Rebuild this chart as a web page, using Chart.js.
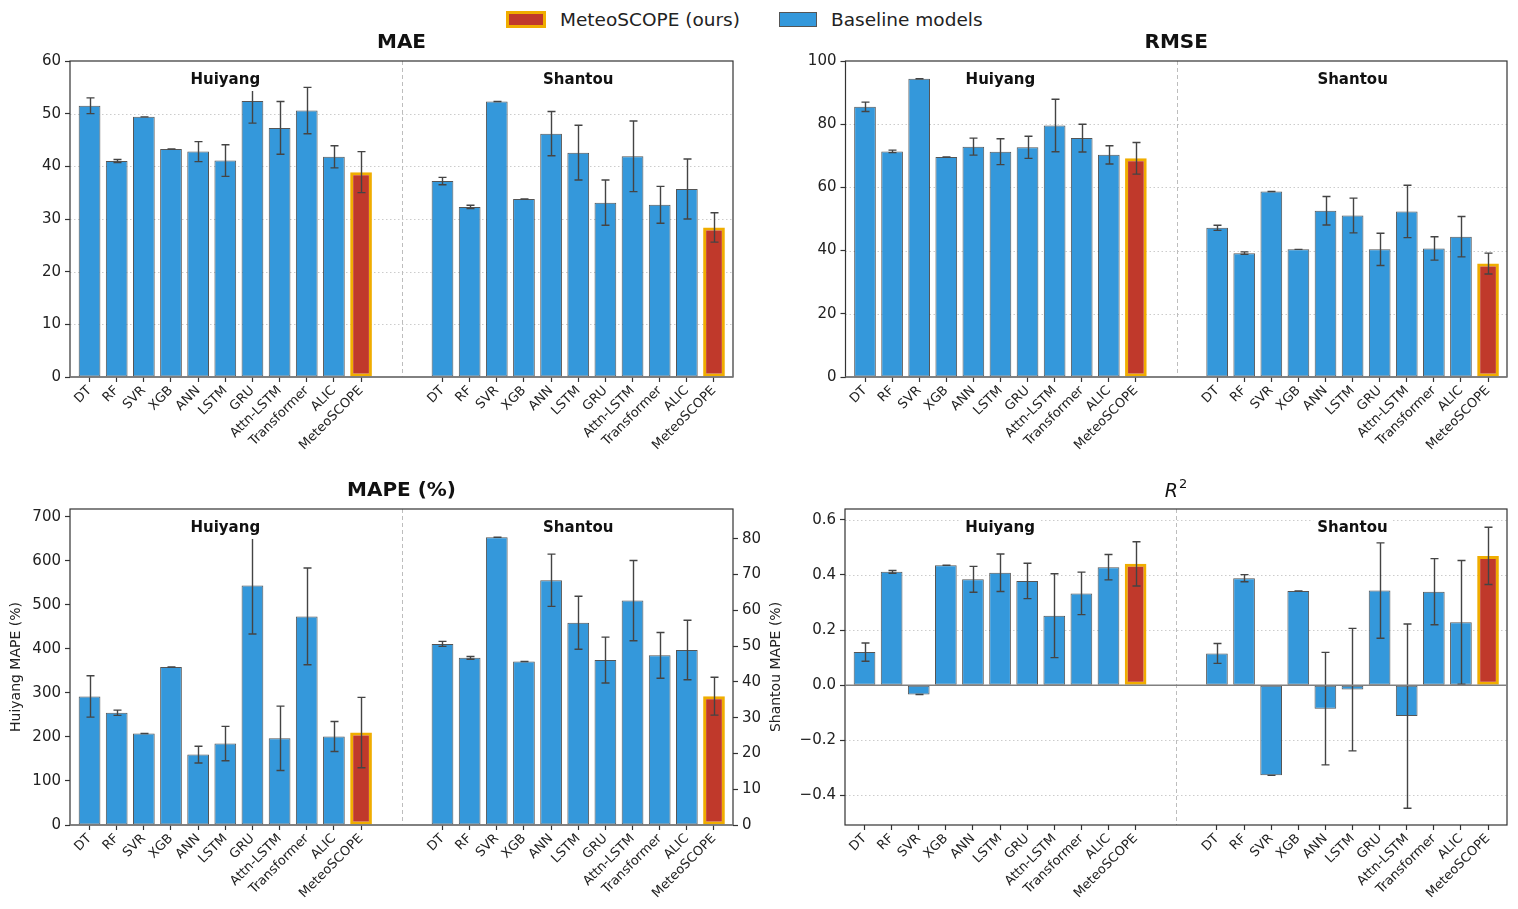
<!DOCTYPE html>
<html><head><meta charset="utf-8">
<script src="https://cdn.jsdelivr.net/npm/chart.js@4.4.0/dist/chart.umd.min.js"></script>
<style>
html,body{margin:0;padding:0;background:#fff;width:1518px;height:909px;overflow:hidden;font-family:"DejaVu Sans",sans-serif;}
canvas{position:absolute;}
.patch{position:absolute;box-sizing:border-box;}
.ltxt{position:absolute;top:9px;font-size:18.5px;line-height:22px;color:#222;white-space:nowrap;}
</style></head><body>
<div class="patch" style="left:506px;top:11px;width:40px;height:17px;background:#c0392b;border:3px solid #f0ad00"></div>
<div class="ltxt" style="left:560px">MeteoSCOPE (ours)</div>
<div class="patch" style="left:779px;top:12px;width:38px;height:15px;background:#3498db;border:1px solid #555"></div>
<div class="ltxt" style="left:831px">Baseline models</div>
<canvas id="cMAE" width="760" height="460" style="left:0;top:0;width:760px;height:460px"></canvas>
<canvas id="cRMSE" width="758" height="460" style="left:760px;top:0;width:758px;height:460px"></canvas>
<canvas id="cMAPE" width="790" height="449" style="left:0;top:460px;width:790px;height:449px"></canvas>
<canvas id="cR2" width="728" height="449" style="left:790px;top:460px;width:728px;height:449px"></canvas>
<script>
// ---------------- data ----------------
const models = ['DT','RF','SVR','XGB','ANN','LSTM','GRU','Attn-LSTM','Transformer','ALIC','MeteoSCOPE'];
const sites = ['Huiyang','Shantou'];

const maeHuiyang    = [51.5, 41.0, 49.4, 43.3, 42.8, 41.1, 52.4, 47.3, 50.6, 41.8, 38.9];
const maeHuiyangErr = [1.5, 0.3, 0.0, 0.0, 1.9, 3.0, 4.2, 5.0, 4.4, 2.1, 3.9];
const maeShantou    = [37.2, 32.3, 52.3, 33.8, 46.2, 42.6, 33.1, 41.9, 32.7, 35.7, 28.4];
const maeShantouErr = [0.7, 0.3, 0.0, 0.0, 4.2, 5.2, 4.3, 6.7, 3.5, 5.7, 2.8];

const rmseHuiyang    = [85.5, 71.4, 94.4, 69.6, 72.9, 71.3, 72.7, 79.6, 75.6, 70.3, 69.2];
const rmseHuiyangErr = [1.5, 0.4, 0.0, 0.0, 2.7, 4.1, 3.5, 8.3, 4.4, 2.9, 5.0];
const rmseShantou    = [47.2, 39.2, 58.7, 40.4, 52.6, 51.1, 40.4, 52.4, 40.7, 44.4, 35.9];
const rmseShantouErr = [0.8, 0.4, 0.0, 0.0, 4.5, 5.5, 5.1, 8.3, 3.7, 6.4, 3.3];

const mapeHuiyang    = [292, 255, 208, 359, 160, 185, 544, 197, 474, 201, 210];
const mapeHuiyangErr = [47, 6, 0, 0, 19, 39, 110, 73, 110, 34, 80];
const mapeShantou    = [50.6, 46.7, 80.4, 45.7, 68.4, 56.5, 46.1, 62.7, 47.4, 48.9, 36.0];
const mapeShantouErr = [0.7, 0.4, 0.0, 0.0, 7.3, 7.4, 6.4, 11.2, 6.4, 8.3, 5.3];

const r2Huiyang    = [0.120, 0.411, -0.034, 0.435, 0.384, 0.408, 0.378, 0.252, 0.333, 0.428, 0.440];
const r2HuiyangErr = [0.033, 0.005, 0.0, 0.0, 0.047, 0.068, 0.064, 0.152, 0.077, 0.046, 0.080];
const r2Shantou    = [0.115, 0.388, -0.327, 0.342, -0.085, -0.016, 0.343, -0.112, 0.339, 0.228, 0.469];
const r2ShantouErr = [0.036, 0.013, 0.0, 0.0, 0.204, 0.222, 0.173, 0.334, 0.120, 0.224, 0.104];

const maeTicks  = [0, 10, 20, 30, 40, 50, 60];
const rmseTicks = [0, 20, 40, 60, 80, 100];
const mapeHuiyangTicks = [0, 100, 200, 300, 400, 500, 600, 700];
const mapeShantouTicks = [0, 10, 20, 30, 40, 50, 60, 70, 80];
const r2Ticks = [-0.4, -0.2, 0.0, 0.2, 0.4, 0.6];

// ---------------- styling / layout ----------------
const FONT = '"DejaVu Sans", sans-serif';
Chart.defaults.font.family = FONT;
const BLUE = '#3498db', BLUE_EDGE = 'rgba(55,55,55,0.85)', RED = '#c0392b', GOLD = '#f0ad00';
const SHIFT = 13;               // slot where the second site starts
const OURS = models.indexOf('MeteoSCOPE');
const xPositions = [...models.map((m, i) => i), ...models.map((m, i) => i + SHIFT)];
function labelAt(v) { return v < SHIFT ? models[v] : models[v - SHIFT]; }

const decor = {
  id: 'decor',
  beforeDatasetsDraw(chart) {
    const c = chart.options.plugins.decor, ctx = chart.ctx, a = chart.chartArea;
    const x = chart.scales.x, y = chart.scales.y;
    ctx.save();
    if (c.grid) {
      ctx.strokeStyle = '#cccccc'; ctx.lineWidth = 1; ctx.setLineDash([1.5, 2.5]);
      c.grid.forEach(v => {
        const py = Math.round(y.getPixelForValue(v)) + 0.5;
        ctx.beginPath(); ctx.moveTo(a.left, py); ctx.lineTo(a.right, py); ctx.stroke();
      });
    }
    const dx = Math.round(x.getPixelForValue((models.length - 1 + SHIFT) / 2)) + 0.5;
    ctx.strokeStyle = '#bdbdbd'; ctx.lineWidth = 1; ctx.setLineDash([4, 3]);
    ctx.beginPath(); ctx.moveTo(dx, a.top); ctx.lineTo(dx, a.bottom); ctx.stroke();
    ctx.restore();
  },
  afterDatasetsDraw(chart) {
    const c = chart.options.plugins.decor, ctx = chart.ctx, a = chart.chartArea;
    const x = chart.scales.x, y = chart.scales.y;
    ctx.save();
    // error bars
    chart.data.datasets.forEach((ds, di) => {
      const meta = chart.getDatasetMeta(di);
      const ys = chart.scales[meta.yAxisID];
      meta.data.forEach((el, i) => {
        const v = ds.data[i].y, e = ds.errors[i];
        const px = Math.round(el.x) + 0.5;
        const t = ys.getPixelForValue(v + e), b = ys.getPixelForValue(v - e);
        ctx.strokeStyle = '#444'; ctx.lineWidth = 1.4; ctx.setLineDash([]);
        ctx.beginPath(); ctx.moveTo(px, t); ctx.lineTo(px, b);
        ctx.moveTo(px - 4, t); ctx.lineTo(px + 4, t);
        ctx.moveTo(px - 4, b); ctx.lineTo(px + 4, b); ctx.stroke();
      });
    });
    // spines
    ctx.strokeStyle = '#333'; ctx.lineWidth = 1.2;
    ctx.strokeRect(a.left, a.top, a.right - a.left, a.bottom - a.top);
    // zero line
    const zy = y.getPixelForValue(0);
    ctx.strokeStyle = '#808080'; ctx.lineWidth = 1.6;
    ctx.beginPath(); ctx.moveTo(a.left, zy); ctx.lineTo(a.right, zy); ctx.stroke();
    // site labels with white box
    ctx.font = 'bold 15px ' + FONT; ctx.textAlign = 'center'; ctx.textBaseline = 'middle';
    [(models.length - 1) / 2, (models.length - 1) / 2 + SHIFT].forEach((pos, k) => {
      const px = x.getPixelForValue(pos), py = a.top + 19;
      const w = ctx.measureText(sites[k]).width;
      ctx.fillStyle = '#fff'; ctx.fillRect(px - w / 2 - 4, py - 11, w + 8, 22);
      ctx.fillStyle = '#111'; ctx.fillText(sites[k], px, py);
    });
    // title
    const cx = (a.left + a.right) / 2, ty = a.top - 18;
    ctx.fillStyle = '#111';
    if (c.title === 'R2') {
      ctx.font = 'italic 19px ' + FONT; const w1 = ctx.measureText('R').width;
      ctx.font = '13px ' + FONT; const w2 = ctx.measureText('2').width;
      const sx = cx - (w1 + w2 + 1) / 2;
      ctx.textAlign = 'left';
      ctx.font = 'italic 19px ' + FONT; ctx.fillText('R', sx, ty + 1);
      ctx.font = '13px ' + FONT; ctx.fillText('2', sx + w1 + 1, ty - 6);
    } else {
      ctx.font = 'bold 20px ' + FONT; ctx.textAlign = 'center'; ctx.fillText(c.title, cx, ty);
    }
    // axis titles
    ctx.font = '14px ' + FONT; ctx.fillStyle = '#222'; ctx.textAlign = 'center';
    const my = (a.top + a.bottom) / 2;
    if (c.leftTitle) { ctx.save(); ctx.translate(16, my); ctx.rotate(-Math.PI / 2); ctx.fillText(c.leftTitle, 0, 0); ctx.restore(); }
    if (c.rightTitle) { ctx.save(); ctx.translate(a.right + 43, my); ctx.rotate(-Math.PI / 2); ctx.fillText(c.rightTitle, 0, 0); ctx.restore(); }
    ctx.restore();
  }
};

function barStyle() {
  return {
    backgroundColor: ctx => ctx.dataIndex === OURS ? RED : BLUE,
    borderColor: ctx => ctx.dataIndex === OURS ? GOLD : BLUE_EDGE,
    borderWidth: ctx => ctx.dataIndex === OURS ? 3 : 1,
    borderSkipped: false, grouped: false, barPercentage: 0.8, categoryPercentage: 1.0
  };
}

function yScale(ticks, min, max, fmt, width, position) {
  return {
    type: 'linear', position, min, max,
    afterBuildTicks: s => { s.ticks = ticks.map(v => ({ value: v })); },
    afterFit: s => { s.width = width; },
    ticks: { callback: v => fmt(v), font: { size: 15 }, color: '#222', padding: 4, autoSkip: false },
    grid: { drawOnChartArea: false, drawTicks: true, tickLength: 5, tickColor: '#333', tickWidth: 1.2 },
    border: { display: false }
  };
}

function makeChart(id, p) {
  const datasets = [
    Object.assign({ data: p.h.map((v, i) => ({ x: i, y: v })), errors: p.hErr, yAxisID: 'y' }, barStyle()),
    Object.assign({ data: p.s.map((v, i) => ({ x: i + SHIFT, y: v })), errors: p.sErr, yAxisID: p.y2 ? 'y2' : 'y' }, barStyle())
  ];
  const scales = {
    x: {
      type: 'linear', offset: false, min: -0.72, max: models.length - 1 + SHIFT + 0.7,
      afterBuildTicks: s => { s.ticks = xPositions.map(v => ({ value: v })); },
      afterFit: s => { s.height = p.xh; },
      ticks: { autoSkip: false, minRotation: 45, maxRotation: 45, callback: v => labelAt(v),
               font: { size: 13 }, color: '#222', padding: 1 },
      grid: { drawOnChartArea: false, drawTicks: true, tickLength: 5, tickColor: '#333', tickWidth: 1.2, offset: false },
      border: { display: false }
    },
    y: yScale(p.yTicks, p.yMin, p.yMax, p.fmt, p.yw, 'left')
  };
  if (p.y2) scales.y2 = yScale(p.y2.ticks, p.y2.min, p.y2.max, p.y2.fmt, p.y2.w, 'right');
  return new Chart(document.getElementById(id), {
    type: 'bar',
    data: { datasets },
    options: {
      responsive: false, animation: false, devicePixelRatio: 1,
      layout: { padding: { top: p.top, right: p.right, left: 0, bottom: 0 } },
      plugins: { legend: { display: false }, tooltip: { enabled: false }, title: { display: false },
                 decor: { title: p.title, grid: p.grid, leftTitle: p.leftTitle, rightTitle: p.rightTitle } },
      scales
    },
    plugins: [decor]
  });
}

const intFmt = v => String(Math.round(v));
const r2Fmt = v => { const s = Math.abs(v).toFixed(1); return v < -1e-9 ? '\u2212' + s : s; };

makeChart('cMAE', { title: 'MAE', h: maeHuiyang, hErr: maeHuiyangErr, s: maeShantou, sErr: maeShantouErr,
  yTicks: maeTicks, yMin: 0, yMax: 60, fmt: intFmt, yw: 70, right: 27, top: 61, xh: 83,
  grid: maeTicks.slice(1, -1) });
makeChart('cRMSE', { title: 'RMSE', h: rmseHuiyang, hErr: rmseHuiyangErr, s: rmseShantou, sErr: rmseShantouErr,
  yTicks: rmseTicks, yMin: 0, yMax: 100, fmt: intFmt, yw: 85.5, right: 11, top: 61, xh: 83,
  grid: rmseTicks.slice(1, -1) });
makeChart('cMAPE', { title: 'MAPE (%)', h: mapeHuiyang, hErr: mapeHuiyangErr, s: mapeShantou, sErr: mapeShantouErr,
  yTicks: mapeHuiyangTicks, yMin: 0, yMax: 718, fmt: intFmt, yw: 70, right: 0, top: 49, xh: 84,
  y2: { ticks: mapeShantouTicks, min: 0, max: 88.3, fmt: intFmt, w: 57 },
  leftTitle: 'Huiyang MAPE (%)', rightTitle: 'Shantou MAPE (%)', grid: null });
makeChart('cR2', { title: 'R2', h: r2Huiyang, hErr: r2HuiyangErr, s: r2Shantou, sErr: r2ShantouErr,
  yTicks: r2Ticks, yMin: -0.507, yMax: 0.639, fmt: r2Fmt, yw: 55, right: 11, top: 49, xh: 84,
  grid: [-0.4, -0.2, 0.2, 0.4, 0.6] });
</script>
</body></html>
